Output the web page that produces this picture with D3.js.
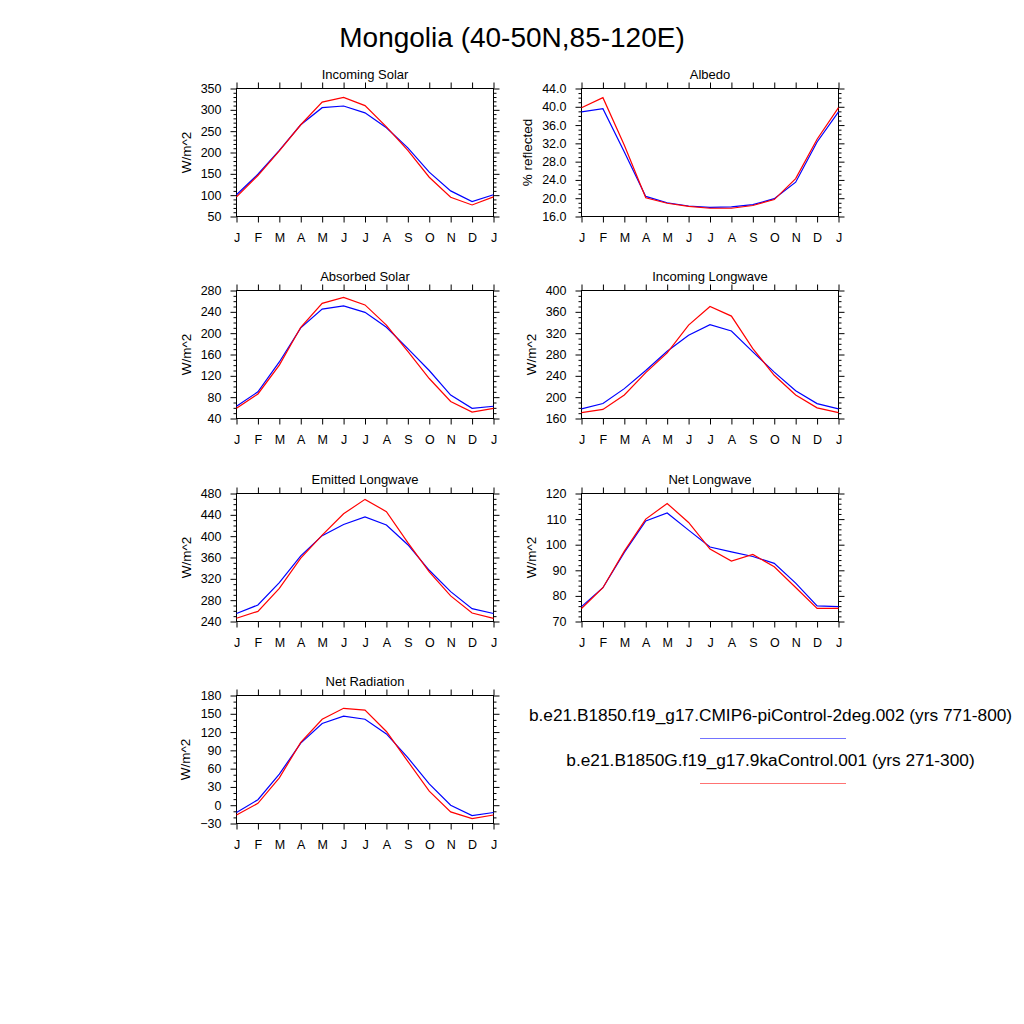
<!DOCTYPE html>
<html>
<head>
<meta charset="utf-8">
<script src="https://cdn.jsdelivr.net/npm/d3@7"></script>
<style>
  body { margin: 0; background: #fff; }
  text { font-family: "Liberation Sans", Arial, Helvetica, sans-serif; fill: #000; }
</style>
</head>
<body>
<script>
// months, January repeated at the end
var months = ["J","F","M","A","M","J","J","A","S","O","N","D","J"];

// piControl (blue) and 9ka (red) climatologies
var incSolarPi  = [101,149,205,265,305,309,293,258,211,154,110,85,101];
var incSolar9ka = [96,146,204,265,318,329,310,260,205,142,95,77,96];
var albedoPi    = [38.9,39.6,30.1,20.4,19.0,18.3,18.0,18.1,18.6,19.9,23.5,32.3,38.9];
var albedo9ka   = [39.8,42.0,31.6,20.1,18.9,18.2,17.8,17.8,18.4,19.7,24.3,32.9,39.8];
var absSolarPi  = [63,90,146,210,245,251,239,211,171,130,84,59,63];
var absSolar9ka = [59,86,140,211,256,267,253,215,166,115,72,52,59];
var incLwPi     = [178,188,216,250,286,316,336,324,285,247,212,188,178];
var incLw9ka    = [171,177,204,246,283,335,370,352,291,241,204,180,171];
var emLwPi      = [255,271,313,363,401,422,436,421,384,336,296,264,255];
var emLw9ka     = [246,259,302,359,402,442,469,446,388,333,288,256,246];
var netLwPi     = [75.8,83.2,97.0,109.3,112.4,105.7,99.1,97.2,95.4,92.7,85.0,76.1,75.8];
var netLw9ka    = [75.1,83.2,97.5,110.0,116.1,108.7,98.3,93.6,96.2,91.4,83.3,75.1,75.1];
var netRadPi    = [-12,9,51,102,134,146,141,117,78,35,0,-17,-12];
var netRad9ka   = [-16,3,45,103,141,159,156,121,72,23,-11,-22,-16];

var legendNames = ["b.e21.B1850.f19_g17.CMIP6-piControl-2deg.002 (yrs 771-800)",
                   "b.e21.B1850G.f19_g17.9kaControl.001 (yrs 271-300)"];
var legendColors = ["#0000ff", "#ff0000"];

var panels = [
  {title:"Incoming Solar",   ylab:"W/m^2",       lo:50,  hi:350, step:50, minor:10, fmt:"d",   pi:incSolarPi, ka:incSolar9ka, col:0, row:0},
  {title:"Albedo",           ylab:"% reflected", lo:16,  hi:44,  step:4,  minor:1,  fmt:".1f", pi:albedoPi,   ka:albedo9ka,   col:1, row:0},
  {title:"Absorbed Solar",   ylab:"W/m^2",       lo:40,  hi:280, step:40, minor:10, fmt:"d",   pi:absSolarPi, ka:absSolar9ka, col:0, row:1},
  {title:"Incoming Longwave",ylab:"W/m^2",       lo:160, hi:400, step:40, minor:10, fmt:"d",   pi:incLwPi,    ka:incLw9ka,    col:1, row:1},
  {title:"Emitted Longwave", ylab:"W/m^2",       lo:240, hi:480, step:40, minor:10, fmt:"d",   pi:emLwPi,     ka:emLw9ka,     col:0, row:2},
  {title:"Net Longwave",     ylab:"W/m^2",       lo:70,  hi:120, step:10, minor:2,  fmt:"d",   pi:netLwPi,    ka:netLw9ka,    col:1, row:2},
  {title:"Net Radiation",    ylab:"W/m^2",       lo:-30, hi:180, step:30, minor:10, fmt:"d",   pi:netRadPi,   ka:netRad9ka,   col:0, row:3}
];

var w = 1024, h = 1024;
var pw = 257, ph = 128;
var colX = [236, 581];
var rowY = [88, 290, 493, 695];

var svg = d3.select("body").append("svg")
    .attr("width", w)
    .attr("height", h);

svg.append("text")
    .attr("x", 512)
    .attr("y", 47)
    .attr("text-anchor", "middle")
    .attr("font-size", "28px")
    .text("Mongolia (40-50N,85-120E)");

function cleanAxis(sel) {
  sel.select(".domain").remove();
  sel.selectAll("line").attr("stroke", "#000").attr("stroke-width", 1);
  sel.selectAll("text").attr("font-size", "12.5px").attr("fill", "#000");
}

panels.forEach(function(p) {
  var g = svg.append("g")
      .attr("transform", "translate(" + (colX[p.col] + 0.5) + "," + (rowY[p.row] + 0.5) + ")");

  var x = d3.scaleLinear().domain([0, 12]).range([0, pw]);
  var y = d3.scaleLinear().domain([p.lo, p.hi]).range([ph, 0]);

  var majors = d3.range(p.lo, p.hi + p.step / 2, p.step);
  var minors = d3.range(p.lo, p.hi + p.minor / 2, p.minor).filter(function(v) {
    return Math.abs(((v - p.lo) / p.step) - Math.round((v - p.lo) / p.step)) > 1e-6;
  });

  // minor ticks both sides
  g.append("g").call(d3.axisLeft(y).tickValues(minors).tickSize(3).tickFormat("")).call(cleanAxis);
  g.append("g").attr("transform", "translate(" + pw + ",0)")
    .call(d3.axisRight(y).tickValues(minors).tickSize(3).tickFormat("")).call(cleanAxis);

  // major y ticks
  var yAx = g.append("g")
    .call(d3.axisLeft(y).tickValues(majors).tickSize(6).tickPadding(9).tickFormat(d3.format(p.fmt)))
    .call(cleanAxis);
  g.append("g").attr("transform", "translate(" + pw + ",0)")
    .call(d3.axisRight(y).tickValues(majors).tickSize(6).tickFormat("")).call(cleanAxis);

  // month ticks
  g.append("g").attr("transform", "translate(0," + ph + ")")
    .call(d3.axisBottom(x).tickValues(d3.range(13)).tickSize(6).tickPadding(10.5)
      .tickFormat(function(i) { return months[i]; }))
    .call(cleanAxis);
  g.append("g")
    .call(d3.axisTop(x).tickValues(d3.range(13)).tickSize(6).tickFormat(""))
    .call(cleanAxis);

  g.append("rect")
    .attr("width", pw)
    .attr("height", ph)
    .attr("fill", "none")
    .attr("stroke", "#000")
    .attr("stroke-width", 1);

  var line = d3.line()
    .x(function(d, i) { return x(i); })
    .y(function(d) { return y(d); });

  g.append("path").datum(p.pi)
    .attr("d", line).attr("fill", "none")
    .attr("stroke", "#0000ff").attr("stroke-width", 1.2);
  g.append("path").datum(p.ka)
    .attr("d", line).attr("fill", "none")
    .attr("stroke", "#ff0000").attr("stroke-width", 1.2);

  g.append("text")
    .attr("x", pw / 2)
    .attr("y", -9.5)
    .attr("text-anchor", "middle")
    .attr("font-size", "13px")
    .text(p.title);

  var bb = yAx.node().getBBox();
  g.append("text")
    .attr("transform", "translate(" + (bb.x - 10) + "," + (ph / 2) + ") rotate(-90)")
    .attr("text-anchor", "middle")
    .attr("font-size", "13.5px")
    .text(p.ylab);
});

// legend (thin lines, drawn semi-transparent like the reference)
var legY = [721, 766];
legendNames.forEach(function(name, i) {
  svg.append("text")
    .attr("x", 770.5)
    .attr("y", legY[i])
    .attr("text-anchor", "middle")
    .attr("font-size", "17.3px")
    .text(name);
  svg.append("line")
    .attr("x1", 700).attr("x2", 846)
    .attr("y1", legY[i] + 17.5).attr("y2", legY[i] + 17.5)
    .attr("stroke", legendColors[i])
    .attr("stroke-opacity", 0.55)
    .attr("stroke-width", 1.2);
});
</script>
</body>
</html>
